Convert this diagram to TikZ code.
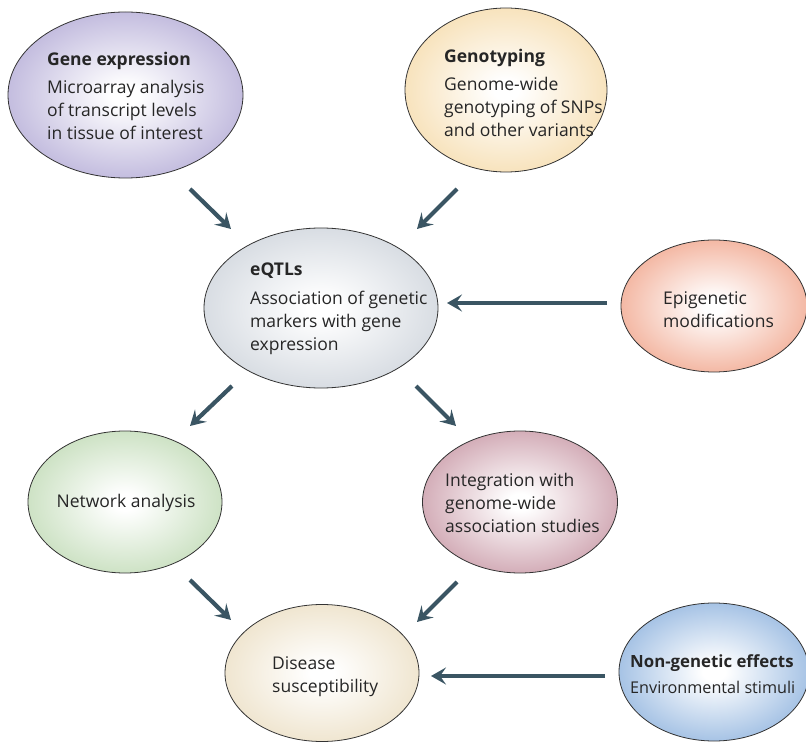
\documentclass[tikz,border=0pt]{standalone}
\usepackage{fontspec}
\setmainfont{Open Sans}
\usetikzlibrary{shapes.geometric,arrows.meta}
\makeatletter
\pgfdeclareradialshading[tikz@radial@inner,tikz@radial@outer]{softradial}{\pgfpointorigin}{color(0bp)=(tikz@radial@inner); color(3bp)=(tikz@radial@inner); color(36bp)=(tikz@radial@outer); color(50bp)=(tikz@radial@outer)}
\makeatother
\definecolor{arrowc}{HTML}{3A5563}
\definecolor{cge}{HTML}{A69CCF}
\definecolor{cgt}{HTML}{F4D59C}
\definecolor{ceq}{HTML}{C5CCD5}
\definecolor{cep}{HTML}{EE9577}
\definecolor{cna}{HTML}{B5D4A8}
\definecolor{cig}{HTML}{BE8595}
\definecolor{cds}{HTML}{E8D9B9}
\definecolor{cng}{HTML}{7AA5D8}
\tikzset{
  blob/.style={ellipse, draw=black!80, line width=0.8pt, inner sep=0pt, inner color=white, shading=softradial},
  lbl/.style={align=left, inner sep=0pt, font=\fontsize{17.5}{23}\selectfont, text=black!85},
  arr/.style={draw=arrowc, line width=4.2pt, -{Stealth[length=15pt,width=17pt,inset=6pt]}}
}
\begin{document}
\begin{tikzpicture}[x=1pt,y=-1pt]
\useasboundingbox (0,0) rectangle (806,743);
% ellipses
\node[blob, outer color=cge, shading=softradial, minimum width=235pt, minimum height=166pt] (ge) at (125.5,95) {};
\node[blob, outer color=cgt, shading=softradial, minimum width=202pt, minimum height=164pt] (gt) at (506,90) {};
\node[blob, outer color=ceq, shading=softradial, minimum width=234pt, minimum height=160pt] (eq) at (321,308) {};
\node[blob, outer color=cep, shading=softradial, minimum width=186pt, minimum height=132pt] (ep) at (714,306) {};
\node[blob, outer color=cna, shading=softradial, minimum width=194pt, minimum height=142pt] (na) at (125,502) {};
\node[blob, outer color=cig, shading=softradial, minimum width=195pt, minimum height=142pt] (ig) at (520,502) {};
\node[blob, outer color=cds, shading=softradial, minimum width=194pt, minimum height=137pt] (ds) at (322,673) {};
\node[blob, outer color=cng, shading=softradial, minimum width=190pt, minimum height=138pt] (ng) at (714,672) {};
% texts
\node[lbl, anchor=north west] (tge) at (47,52) {\textbf{Gene expression}\\[5pt]Microarray analysis\\of transcript levels\\in tissue of interest};
\node[lbl, anchor=north west] (tgt) at (444,49) {\textbf{Genotyping}\\[5pt]Genome-wide\\genotyping of SNPs\\and other variants};
\node[lbl, anchor=north west] (teq) at (250,263) {\textbf{eQTLs}\\[6pt]Association of genetic\\markers with gene\\expression};
\node[lbl, anchor=north west] (tep) at (663,291) {Epigenetic\\modifications};
\node[lbl] (tna) at (126,503) {Network analysis};
\node[lbl, anchor=north west] (tig) at (445,473) {Integration with\\genome-wide\\association studies};
\node[lbl, anchor=north west] (tds) at (272,656) {Disease\\susceptibility};
\node[lbl, anchor=north west, font=\fontsize{16.8}{23}\selectfont] (tng) at (630,654) {\textbf{Non-genetic effects}\\[3pt]{\fontsize{16.2}{23}\selectfont Environmental stimuli}};
% arrow end points
\coordinate (a1s) at (190,189); \coordinate (a1e) at (231,229);
\coordinate (a2s) at (457,189); \coordinate (a2e) at (417,229);
\coordinate (a3s) at (607,303); \coordinate (a3e) at (447,303);
\coordinate (a4s) at (232,386); \coordinate (a4e) at (190,426);
\coordinate (a5s) at (416,386); \coordinate (a5e) at (456,426);
\coordinate (a6s) at (190,580); \coordinate (a6e) at (231,620);
\coordinate (a7s) at (457,582); \coordinate (a7e) at (417,622);
\coordinate (a8s) at (605,676); \coordinate (a8e) at (431,676);
\draw[arr] (a1s) -- (a1e);
\draw[arr] (a2s) -- (a2e);
\draw[arr] (a3s) -- (a3e);
\draw[arr] (a4s) -- (a4e);
\draw[arr] (a5s) -- (a5e);
\draw[arr] (a6s) -- (a6e);
\draw[arr] (a7s) -- (a7e);
\draw[arr] (a8s) -- (a8e);
\end{tikzpicture}
\end{document}
